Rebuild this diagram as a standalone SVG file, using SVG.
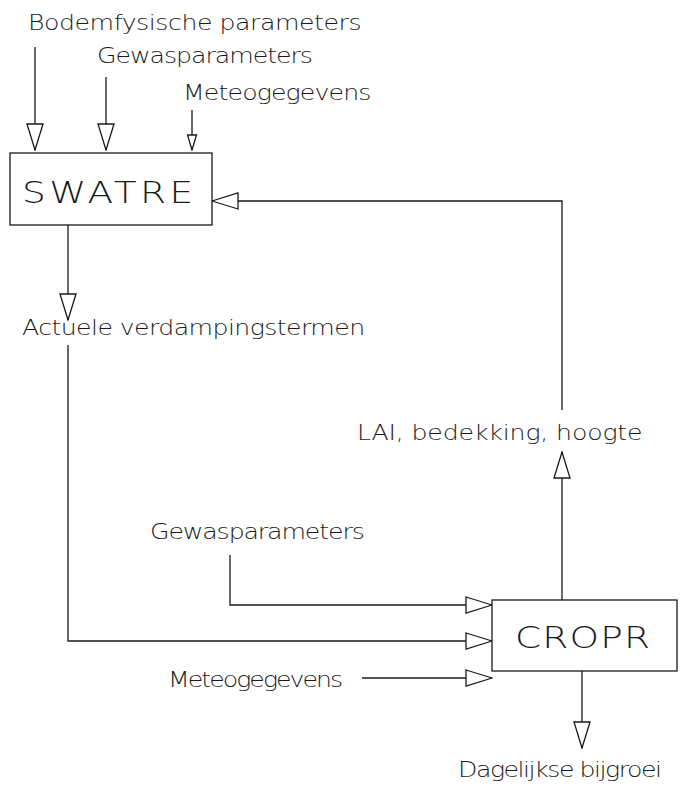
<svg xmlns="http://www.w3.org/2000/svg" width="693" height="789" viewBox="0 0 693 789">
  <defs>
    <style>
      .lbl { font-family: "DejaVu Sans", "Liberation Sans", sans-serif; font-weight: 200; font-size: 21px; fill: #1a1a1a; }
      .box-t { font-family: "DejaVu Sans", "Liberation Sans", sans-serif; font-weight: 200; font-size: 30px; fill: #1a1a1a; }
      .box { fill: #ffffff; stroke: #1a1a1a; stroke-width: 1.3; }
      .wire { fill: none; stroke: #1a1a1a; stroke-width: 1.3; }
      .big { marker-end: url(#head); }
      .small { marker-end: url(#headSmall); }
    </style>
    <marker id="head" viewBox="-1 -1 28 18" refX="26" refY="8" markerWidth="28" markerHeight="18" markerUnits="userSpaceOnUse" orient="auto">
      <path d="M0,0 L26,8 L0,16 Z" fill="#ffffff" stroke="#1a1a1a" stroke-width="1.3"/>
    </marker>
    <marker id="headSmall" viewBox="-1 -1 17 11" refX="15" refY="4.5" markerWidth="17" markerHeight="11" markerUnits="userSpaceOnUse" orient="auto">
      <path d="M0,0 L15,4.5 L0,9 Z" fill="#ffffff" stroke="#1a1a1a" stroke-width="1.3"/>
    </marker>
  </defs>
  <rect width="693" height="789" fill="#ffffff"/>

  <!-- connectors -->
  <g id="connectors">
    <path class="wire big" d="M35,47 V150"/>
    <path class="wire big" d="M106,77 V150"/>
    <path class="wire small" d="M192,110 V150"/>
    <path class="wire big" d="M562,410 V201 H212"/>
    <path class="wire big" d="M68,225 V320"/>
    <path class="wire big" d="M68,345 V641 H492"/>
    <path class="wire big" d="M562,600 V452"/>
    <path class="wire big" d="M230,555 V605 H492"/>
    <path class="wire big" d="M362,678 H492"/>
    <path class="wire big" d="M582,671 V748"/>
  </g>

  <!-- labels are set in a wide plotter style: glyphs stretched 1.2x horizontally -->
  <g id="in-bodem">
    <text class="lbl" transform="translate(28,30) scale(1.2,1)" textLength="278" lengthAdjust="spacing">Bodemfysische parameters</text>
  </g>
  <g id="in-gewas-1">
    <text class="lbl" transform="translate(97,63) scale(1.2,1)" textLength="180" lengthAdjust="spacing">Gewasparameters</text>
  </g>
  <g id="in-meteo-1">
    <text class="lbl" transform="translate(183,100) scale(1.2,1)" textLength="157" lengthAdjust="spacing">Meteogegevens</text>
  </g>

  <!-- SWATRE model -->
  <g id="swatre">
    <rect class="box" x="10" y="153" width="202" height="72"/>
    <text class="box-t" transform="translate(22,203) scale(1.25,1)" textLength="137" lengthAdjust="spacing">SWATRE</text>
  </g>

  <g id="verdamping">
    <text class="lbl" transform="translate(22,335) scale(1.2,1)" textLength="286" lengthAdjust="spacing">Actuele verdampingstermen</text>
  </g>

  <g id="lai">
    <text class="lbl" transform="translate(357,440) scale(1.2,1)" textLength="238" lengthAdjust="spacing">LAI, bedekking, hoogte</text>
  </g>

  <!-- inputs of CROPR -->
  <g id="in-gewas-2">
    <text class="lbl" transform="translate(150,539) scale(1.2,1)" textLength="179" lengthAdjust="spacing">Gewasparameters</text>
  </g>
  <g id="in-meteo-2">
    <text class="lbl" transform="translate(168,687) scale(1.2,1)" textLength="146" lengthAdjust="spacing">Meteogegevens</text>
  </g>

  <!-- CROPR model -->
  <g id="cropr">
    <rect class="box" x="492" y="600" width="185" height="71"/>
    <text class="box-t" transform="translate(515,648) scale(1.25,1)" textLength="108" lengthAdjust="spacing">CROPR</text>
  </g>

  <g id="bijgroei">
    <text class="lbl" transform="translate(458,777) scale(1.2,1)" textLength="170" lengthAdjust="spacing">Dagelijkse bijgroei</text>
  </g>
</svg>
